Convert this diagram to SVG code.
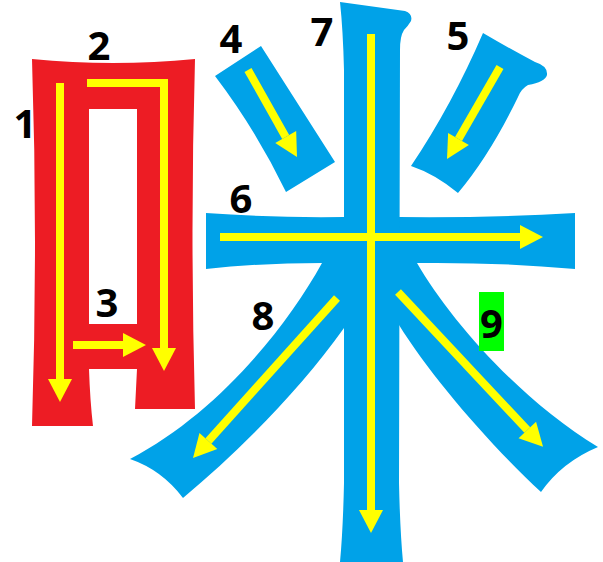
<svg xmlns="http://www.w3.org/2000/svg" width="603" height="562" viewBox="0 0 603 562">
<style>
.red{fill:#ED1C24}
.blue{fill:#00A2E8}
.arr{stroke:#FFFF00;stroke-width:8;fill:none;marker-end:url(#ah)}
.lbl{font-family:"Open Sans","DejaVu Sans",sans-serif;font-weight:bold;font-size:40px;fill:#000;text-anchor:middle}
</style>
<defs>
<marker id="ah" markerUnits="userSpaceOnUse" markerWidth="24" markerHeight="26" refX="0" refY="12" orient="auto" viewBox="0 0 24 24" overflow="visible">
<polygon points="0,0 23,12 0,24" fill="#FFFF00"/>
</marker>
</defs>
<rect width="603" height="562" fill="#fff"/>
<g id="strokes">
<g id="s1-3"><path class="red" fill-rule="evenodd" d="M32,59 Q113,67 195,59 Q190,230 195,409 L135,409 L137,369 L89,369 Q90,400 93,426 L32,426 Q38,240 32,59 Z M89,109 L137,109 L137,324 L89,324 Z"/></g>
<g id="s4"><path class="blue" d="M215,76 L261,46 L335,162 L286,192 Q256,130 215,76 Z"/></g>
<g id="s5"><path class="blue" d="M483,33 Q512,50 535,62 Q548,66 547,75 Q545,82 528,85 Q521,89 518,97 Q490,155 458,193 Q435,174 411,166 Q452,105 483,33 Z"/></g>
<g id="s6"><path class="blue" d="M206,213 Q275,218 344,217 L399,217 Q490,218 575,213 L575,269 Q495,262 417,263 L322,263 Q260,263 206,269 Z"/></g>
<g id="s7"><path class="blue" d="M340,2 L405,11 Q413,14 411,21 Q408,26 404,30 Q400,36 400,50 L399,483 Q400,530 403,562 L340,562 Q343,530 344,483 L344,70 Q343,30 340,2 Z"/></g>
<g id="s8"><path class="blue" d="M322,263 L344,263 L344,328 C300,390 240,450 183,498 Q162,470 130,459 C215,415 285,330 322,263 Z"/></g>
<g id="s9"><path class="blue" d="M399,263 L417,263 C450,320 520,400 598,447 Q562,462 541,492 C490,445 430,375 399,325 Z"/></g>
</g>
<g id="connectors">
<path class="arr" d="M60,83 L60,379"/>
<path class="arr" d="M87,83 L164,83 L164,348"/>
<path class="arr" d="M73,345 L123,345"/>
<path class="arr" d="M248,70 L285.7,137"/>
<path class="arr" d="M500,67 L458.5,139"/>
<path class="arr" d="M220,237 L520,237"/>
<path class="arr" d="M371,34 L371,510"/>
<path class="arr" d="M337,298 L208.4,441"/>
<path class="arr" d="M398,292 L527.3,430"/>
</g>
<g id="labels">
<text class="lbl" x="25" y="138">1</text>
<text class="lbl" x="99" y="60">2</text>
<text class="lbl" x="107" y="317">3</text>
<text class="lbl" x="231" y="53">4</text>
<text class="lbl" x="458" y="50">5</text>
<text class="lbl" x="241" y="213">6</text>
<text class="lbl" x="322" y="46">7</text>
<text class="lbl" x="263" y="330">8</text>
<rect x="479" y="292" width="25" height="59" fill="#00FF00"/>
<text class="lbl" x="491.5" y="338">9</text>
</g>
</svg>
